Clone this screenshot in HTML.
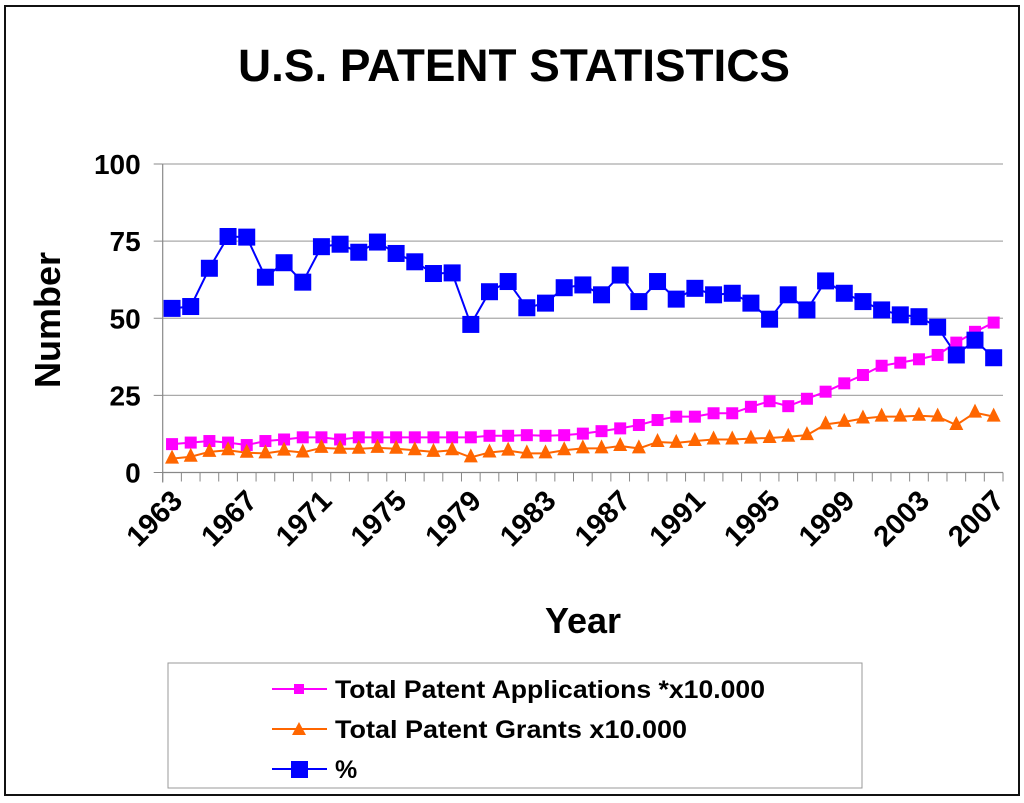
<!DOCTYPE html>
<html><head><meta charset="utf-8"><style>
body{margin:0;background:#fff;}
svg text{font-family:"Liberation Sans",Arial,sans-serif;font-weight:bold;fill:#000;}
</style></head><body>
<svg id="chart" width="1024" height="798" viewBox="0 0 1024 798">
<rect x="5" y="6" width="1014" height="789" fill="#fff" stroke="#111" stroke-width="2"/>
<text x="514" y="81" font-size="45" text-anchor="middle" textLength="552" lengthAdjust="spacingAndGlyphs">U.S. PATENT STATISTICS</text>
<text transform="translate(60,320) rotate(-90)" font-size="36" text-anchor="middle">Number</text>
<text x="583" y="633" font-size="36" text-anchor="middle">Year</text>
<g id="grid"></g><g id="axes"></g><g id="series"></g>
<rect x="168" y="663" width="694" height="125" fill="#fff" stroke="#999" stroke-width="1"/>
<g>
<line x1="272" y1="689" x2="327" y2="689" stroke="#ff00ff" stroke-width="2"/><rect x="294" y="684" width="10" height="10" fill="#ff00ff"/>
<text x="335" y="698" font-size="25" textLength="430" lengthAdjust="spacingAndGlyphs">Total Patent Applications *x10.000</text></g>
<g>
<line x1="272" y1="729" x2="327" y2="729" stroke="#ff6600" stroke-width="2"/><polygon points="299,722 306,735 292,735" fill="#ff6600"/>
<text x="335" y="738" font-size="25" textLength="352" lengthAdjust="spacingAndGlyphs">Total Patent Grants x10.000</text></g>
<g>
<line x1="272" y1="769" x2="327" y2="769" stroke="#0000ff" stroke-width="2"/><rect x="291" y="761" width="17" height="17" fill="#0000ff"/>
<text x="335" y="778" font-size="25">%</text></g>
</svg>
<script>
const years=[];for(let y=1963;y<=2007;y++)years.push(y);
const yTicks=[0,25,50,75,100];
const pct=[53.2,53.8,66.2,76.5,76.3,63.3,68,61.7,73.2,74,71.4,74.7,71,68.3,64.5,64.7,48,58.6,61.9,53.4,54.9,59.9,60.8,57.6,64,55.4,61.9,56.2,59.7,57.6,58.1,54.9,49.7,57.6,52.7,62.1,58.1,55.4,52.7,51.1,50.5,47.1,38.1,42.9,37.2];
const apps=[9.2,9.7,10.2,9.7,8.9,10.2,10.7,11.4,11.4,10.7,11.4,11.4,11.4,11.4,11.4,11.4,11.4,11.9,11.9,12.1,11.9,12.1,12.6,13.4,14.3,15.4,17,18.1,18.1,19.2,19.2,21.3,23.1,21.5,23.9,26.2,28.9,31.6,34.6,35.6,36.7,38.1,42.1,45.6,48.6];
const grants=[4.5,5.1,6.7,7.2,6.4,6.2,7.1,6.5,8,7.7,7.7,8,7.7,7.2,6.7,7.2,4.9,6.5,7.1,6.2,6.2,7.2,7.8,7.8,8.6,7.8,9.9,9.6,10.2,10.7,10.7,11,11.2,11.6,12.1,15.6,16.4,17.5,18.1,18.1,18.4,18.1,15.4,19.4,18.1];
const X0=162.7,X1=1003,Y0=472.5,Y1=164;
const step=(X1-X0)/years.length;
const xs=i=>X0+(i+0.5)*step;
const ys=v=>Y0-(v/100)*(Y0-Y1);
const NS="http://www.w3.org/2000/svg";
function mk(tag,attrs,parent){const e=document.createElementNS(NS,tag);for(const k in attrs)e.setAttribute(k,attrs[k]);parent.appendChild(e);return e;}
const grid=document.getElementById('grid'),axes=document.getElementById('axes'),ser=document.getElementById('series');
yTicks.forEach(t=>{
 if(t>0){const g=mk('line',{x1:X0,x2:X1,y1:ys(t),y2:ys(t),stroke:'#aaa','stroke-width':1.2},grid);
 
 }
 mk('line',{x1:X0-9,x2:X0,y1:ys(t),y2:ys(t),stroke:'#888'},axes);
 const l=mk('text',{x:X0-22,y:ys(t)+10,'font-size':28,'text-anchor':'end'},axes);l.textContent=t;
 
 
});
mk('line',{x1:X0,x2:X0,y1:Y1,y2:Y0+10,stroke:'#888','stroke-width':1.2},axes);
mk('line',{x1:X0,x2:X1,y1:Y0,y2:Y0,stroke:'#888','stroke-width':1.2},axes);
for(let i=0;i<=years.length;i++)mk('line',{x1:X0+i*step,x2:X0+i*step,y1:Y0,y2:Y0+9,stroke:'#888'},axes);
years.forEach((y,i)=>{if(i%4)return;
 const cx=xs(i)+12,cy=Y0+30;
 const t=mk('text',{transform:`translate(${cx},${cy}) rotate(-45)`,'font-size':29,'text-anchor':'end'},axes);t.textContent=y;
 
 
});
function line(data,color,name){
 const p=mk('polyline',{points:data.map((v,i)=>xs(i)+','+ys(v)).join(' '),fill:'none',stroke:color,'stroke-width':2},ser);
 
 
}
line(apps,'#ff00ff','applications');line(grants,'#ff6600','grants');line(pct,'#0000ff','percent');
apps.forEach((v,i)=>{const r=mk('rect',{x:xs(i)-6,y:ys(v)-6,width:12,height:12,fill:'#ff00ff'},ser);
 
 });
grants.forEach((v,i)=>{const x=xs(i),y=ys(v);const r=mk('polygon',{points:`${x},${y-9} ${x+7},${y+5} ${x-7},${y+5}`,fill:'#ff6600'},ser);
 
 });
pct.forEach((v,i)=>{const r=mk('rect',{x:xs(i)-8.5,y:ys(v)-8.5,width:17,height:17,fill:'#0000ff'},ser);
 
 });
</script>
</body></html>
